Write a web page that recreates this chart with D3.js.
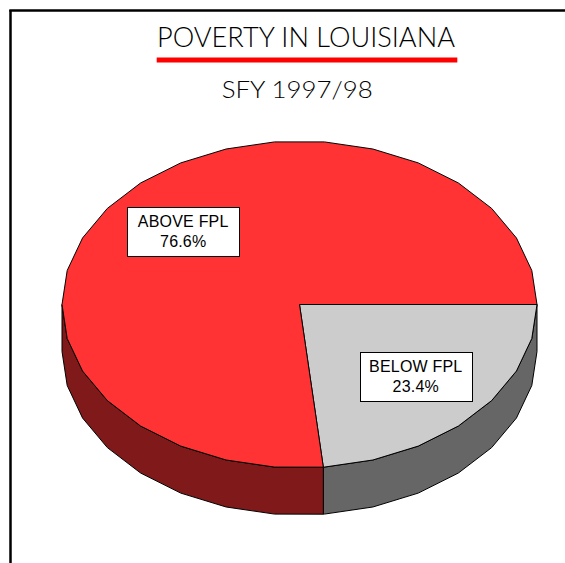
<!DOCTYPE html>
<html>
<head>
<meta charset="utf-8">
<script src="https://cdn.jsdelivr.net/npm/d3@7"></script>
<style>
  html, body { margin: 0; padding: 0; background: #fff; }
  svg { display: block; }
</style>
</head>
<body>
<svg id="chart" width="565" height="563"></svg>
<script>
// ---- data ----
const categories = ["BELOW FPL", "ABOVE FPL"];
const values = [23.4, 76.6];
const valueLabels = ["23.4%", "76.6%"];
const titleText = "POVERTY IN LOUISIANA";
const subtitleText = "SFY 1997/98";

// ---- styles ----
const topColors = ["#CCCCCC", "#FF3333"];
const sideColors = ["#666666", "#801A1A"];

const svg = d3.select("#chart");
const W = 565, H = 563;

// frame
svg.append("line").attr("x1", 10.5).attr("y1", 10).attr("x2", 10.5).attr("y2", H)
  .attr("stroke", "#000").attr("stroke-width", 2.5);
svg.append("line").attr("x1", 9.3).attr("y1", 10.5).attr("x2", W).attr("y2", 10.5)
  .attr("stroke", "#000").attr("stroke-width", 2.5);

// titles
svg.append("text").text(titleText)
  .attr("x", 306).attr("y", 47.3)
  .attr("text-anchor", "middle")
  .attr("font-family", "Lato, 'Open Sans', sans-serif")
  .attr("font-weight", 300)
  .attr("font-size", 26.5)
  .attr("textLength", 298).attr("lengthAdjust", "spacingAndGlyphs")
  .attr("fill", "#000");
svg.append("rect").attr("x", 156.7).attr("y", 57.5).attr("width", 300.6).attr("height", 5)
  .attr("fill", "#FF0000");
svg.append("text").text(subtitleText)
  .attr("x", 297.2).attr("y", 98.3)
  .attr("text-anchor", "middle")
  .attr("font-family", "Lato, 'Open Sans', sans-serif")
  .attr("font-weight", 300)
  .attr("font-size", 24)
  .attr("textLength", 151).attr("lengthAdjust", "spacingAndGlyphs")
  .attr("fill", "#000");

// ---- 3D pie geometry ----
const cx = 299.5, cy = 304.5, rx = 237.5, ry = 163.5, depth = 47;
const toRad = Math.PI / 180;

// angle scale: cumulative percentage -> screen angle in degrees (clockwise from +x)
const pie = d3.pie().value(d => d).sort(null).startAngle(0).endAngle(2 * Math.PI);
const arcs = pie(values);
const deg = d3.scaleLinear().domain([0, 2 * Math.PI]).range([0, 360]);

function pt(t, dy = 0) {
  return [cx + rx * Math.cos(t * toRad), cy + ry * Math.sin(t * toRad) + dy];
}
// faceted ellipse vertex angles between a and b (12-degree facets)
function angles(a, b) {
  const out = [a];
  for (let k = Math.ceil(a / 12 + 1e-9) * 12; k < b - 1e-9; k += 12) out.push(k);
  out.push(b);
  return out;
}
const line = d3.line();

// sides (only front half, 0..180 deg)
const sideG = svg.append("g");
arcs.forEach((a, i) => {
  const t0 = deg(a.startAngle), t1 = deg(a.endAngle);
  const s0 = Math.max(t0, 0), s1 = Math.min(t1, 180);
  if (s1 <= s0) return;
  const angs = angles(s0, s1);
  const topPts = angs.map(t => pt(t));
  const botPts = angs.slice().reverse().map(t => pt(t, depth));
  sideG.append("path")
    .attr("d", line(topPts.concat(botPts)) + "Z")
    .attr("fill", sideColors[i])
    .attr("stroke", "#000").attr("stroke-width", 1).attr("stroke-linejoin", "round");
});

// tops
const topG = svg.append("g");
arcs.forEach((a, i) => {
  const t0 = deg(a.startAngle), t1 = deg(a.endAngle);
  const angs = angles(t0, t1);
  const pts = [[cx, cy]].concat(angs.map(t => pt(t)));
  topG.append("path")
    .attr("d", line(pts) + "Z")
    .attr("fill", topColors[i])
    .attr("stroke", "#000").attr("stroke-width", 1).attr("stroke-linejoin", "round");
});

// labels at 0.66 of radius along mid-angle
const labG = svg.append("g");
arcs.forEach((a, i) => {
  const mid = deg((a.startAngle + a.endAngle) / 2);
  const lx = cx + rx * 0.66 * Math.cos(mid * toRad);
  const ly = cy + ry * 0.66 * Math.sin(mid * toRad);
  const g = labG.append("g");
  const rect = g.append("rect").attr("fill", "#fff").attr("stroke", "#000").attr("stroke-width", 1);
  const t = g.append("text")
    .attr("font-family", "'Liberation Sans', Arial, sans-serif")
    .attr("font-size", 16)
    .attr("letter-spacing", 0.2)
    .attr("text-anchor", "middle")
    .attr("fill", "#000");
  t.append("tspan").attr("x", lx).attr("y", ly - 5).text(categories[i]);
  t.append("tspan").attr("x", lx).attr("y", ly + 15).text(valueLabels[i]);
  const bw = 112, bh = 49;
  rect.attr("x", Math.round(lx - bw / 2) + 0.5).attr("y", Math.round(ly - 25) + 0.5)
    .attr("width", bw).attr("height", bh);
});
</script>
</body>
</html>
